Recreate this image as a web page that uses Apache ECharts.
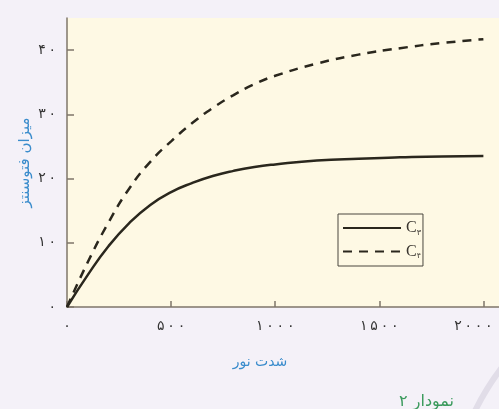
<!DOCTYPE html>
<html>
<head>
<meta charset="utf-8">
<script src="https://cdn.jsdelivr.net/npm/echarts@6/dist/echarts.min.js"></script>
<style>
  html, body { margin: 0; padding: 0; background: #f4f1f8; }
  #chart { width: 499px; height: 409px; }
</style>
</head>
<body>
<div id="chart"></div>
<script>
// شدت نور (محور افقی)
const lightX = [0, 100, 200, 300, 400, 500, 600, 700, 800, 900, 1000, 1200, 1400, 1600, 1800, 2000]
// میزان فتوسنتز
const c3Values = [0, 5.0, 9.5, 13.1, 15.9, 17.9, 19.3, 20.4, 21.2, 21.8, 22.2, 22.8, 23.1, 23.3, 23.45, 23.5]
const c4Values = [0, 7.0, 13.2, 18.5, 22.6, 25.8, 28.6, 31.0, 33.0, 34.7, 36.0, 37.9, 39.3, 40.3, 41.1, 41.7]
const xTicks = [0, 500, 1000, 1500, 2000]
const yTicks = [0, 10, 20, 30, 40]
const seriesNames = ['C3', 'C4']
const subDigits = { C3: '۳', C4: '۴' }

// ارقام فارسی با کمی فاصله بین رقم‌ها
function faNum(v) {
  return String(v).split('').map(d => '۰۱۲۳۴۵۶۷۸۹'[d]).join('\u2009')
}

const lineColor = '#2a271d'
const axisColor = '#7f766a'

const chart = echarts.init(document.getElementById('chart'))

chart.setOption({
  backgroundColor: '#f4f1f8',
  animation: false,
  textStyle: { fontFamily: 'DejaVu Sans' },
  title: {
    text: 'نمودار ۲',
    right: 40,
    top: 389,
    textStyle: { color: '#3a9a5c', fontSize: 16, fontWeight: 'normal', fontFamily: 'DejaVu Sans' }
  },
  legend: {
    orient: 'vertical',
    left: 338,
    top: 214,
    padding: [6, 2, 6, 4],
    itemGap: 7,
    itemWidth: 58,
    itemHeight: 14,
    borderColor: '#4a463e',
    borderWidth: 1,
    backgroundColor: '#fef9e4',
    itemStyle: { opacity: 0 },
    data: seriesNames,
    formatter: name => '{c|C}{s|' + subDigits[name] + '}',
    textStyle: {
      rich: {
        c: { fontFamily: 'Liberation Serif', fontSize: 16, color: '#3a3630' },
        s: { fontFamily: 'DejaVu Sans', fontSize: 8, color: '#3a3630', padding: [9, 0, 0, 0] }
      }
    }
  },
  grid: {
    left: 67,
    top: 18,
    right: 0,
    bottom: 102,
    outerBoundsMode: 'none',
    show: true,
    backgroundColor: '#fef9e4',
    borderWidth: 0
  },
  xAxis: {
    type: 'value',
    min: 0,
    max: 2075,
    name: 'شدت نور',
    nameLocation: 'middle',
    nameGap: 48,
    nameMoveOverlap: false,
    nameTextStyle: { color: '#3a8ccc', fontSize: 14, padding: [0, 46, 0, 0] },
    splitLine: { show: false },
    axisLine: { lineStyle: { color: axisColor, width: 1.5 } },
    axisTick: { inside: true, length: 6, customValues: xTicks, lineStyle: { color: axisColor, width: 1.5 } },
    axisLabel: {
      customValues: xTicks,
      margin: 12,
      color: '#333',
      fontSize: 14,
      // آخرین برچسب کمی به چپ می‌رود تا داخل تصویر بماند
      formatter: v => (v === 2000 ? '{last|' + faNum(v) + '}' : faNum(v)),
      rich: { last: { color: '#333', fontSize: 14, padding: [0, 20, 0, 0] } }
    }
  },
  yAxis: {
    type: 'value',
    min: 0,
    max: 45,
    name: 'میزان فتوسنتز',
    nameLocation: 'middle',
    nameGap: 34,
    nameMoveOverlap: false,
    nameTextStyle: { color: '#3a8ccc', fontSize: 15 },
    splitLine: { show: false },
    axisLine: { show: true, lineStyle: { color: axisColor, width: 1.5 } },
    axisTick: { show: true, inside: true, length: 7, customValues: yTicks, lineStyle: { color: axisColor, width: 1.5 } },
    axisLabel: { customValues: yTicks, margin: 11, color: '#333', fontSize: 14, formatter: v => faNum(v) }
  },
  graphic: [
    {
      type: 'arc',
      silent: true,
      shape: { cx: 700, cy: 520, r: 250, startAngle: Math.PI * 1.05, endAngle: Math.PI * 1.3 },
      style: { stroke: '#e1dde8', lineWidth: 6, fill: null }
    }
  ],
  series: [
    {
      name: 'C3',
      type: 'line',
      smooth: true,
      symbol: 'none',
      data: lightX.map((x, i) => [x, c3Values[i]]),
      lineStyle: { color: lineColor, width: 2.5 },
      itemStyle: { color: lineColor }
    },
    {
      name: 'C4',
      type: 'line',
      smooth: true,
      symbol: 'none',
      data: lightX.map((x, i) => [x, c4Values[i]]),
      lineStyle: { color: lineColor, width: 2.5, type: [9, 7] },
      itemStyle: { color: lineColor }
    }
  ]
})
</script>
</body>
</html>
